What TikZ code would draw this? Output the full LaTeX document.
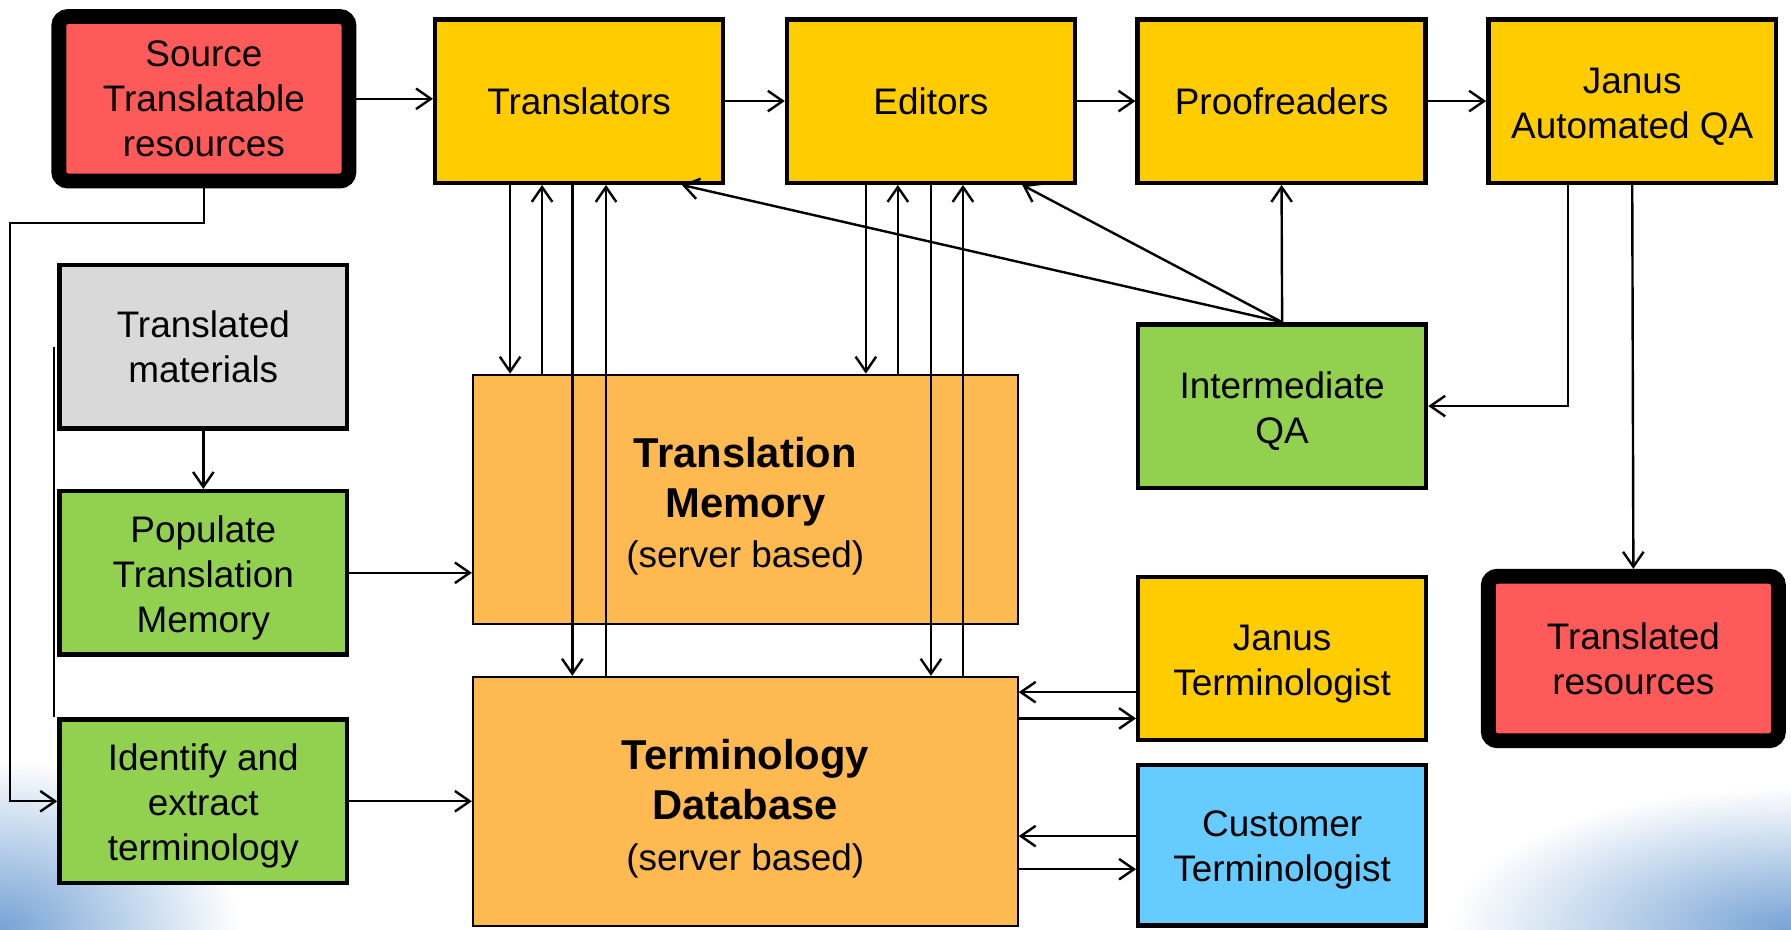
\documentclass[tikz,border=0pt]{standalone}
\usepackage{fontspec}
\setmainfont{Liberation Sans}
\usetikzlibrary{arrows.meta}

\definecolor{resred}{RGB}{255,90,90}
\definecolor{roleyellow}{RGB}{255,204,0}
\definecolor{taskgreen}{RGB}{146,208,80}
\definecolor{matgray}{RGB}{217,217,217}
\definecolor{storeorange}{RGB}{255,185,81}
\definecolor{custblue}{RGB}{102,204,255}
\definecolor{swirl}{RGB}{118,163,213}

% taller first line, pushes a text block down a little
\newcommand{\lowtop}{\rule{0pt}{9pt}}
\newcommand{\lowstore}{\rule{0pt}{11.2pt}}

\tikzset{ box/.style = { rectangle
                       , draw
                       , line width     = 1.1pt
                       , inner sep      = 0pt
                       , align          = center
                       , minimum width  = 25.2mm
                       , minimum height = 14.3mm
                       , font           = \fontsize{9.2}{11.2}\selectfont
                       },
          res/.style = { box
                       , fill           = resred
                       , line width     = 3.7pt
                       , rounded corners = 0.8mm
                       , minimum width  = 25.4mm
                       , minimum height = 14.4mm
                       },
         role/.style = { box
                       , fill = roleyellow
                       },
         task/.style = { box
                       , fill = taskgreen
                       },
        store/.style = { rectangle
                       , draw
                       , fill           = storeorange
                       , line width     = 0.5pt
                       , inner sep      = 0pt
                       , align          = center
                       , minimum width  = 47.7mm
                       , minimum height = 21.8mm
                       , font           = \fontsize{10.4}{12.5}\selectfont
                       },
         link/.style = { draw
                       , line width = 0.6pt
                       },
          arr/.style = { link
                       , -{Straight Barb[length=1.3mm, width=1.8mm]}
                       }
        }

\begin{document}
\begin{tikzpicture}
    [x=0.1mm, y=-0.1mm]
    \useasboundingbox (0,0) rectangle (1568,814);

    % slide background
    \shade[inner color=swirl, outer color=white] (0,814) ellipse [x radius=210, y radius=150];
    \shade[inner color=swirl, outer color=white] (1568,814) ellipse [x radius=300, y radius=125];

    % workflow along the top
    \node[res]  (src) at (178.5,86.5) {Source\\Translatable\\resources};
    \node[role] (tr)  at (507,88.5)   {Translators};
    \node[role] (ed)  at (815,88.5)   {Editors};
    \node[role] (pr)  at (1122,88.5)  {Proofreaders};
    \node[role] (jqa) at (1429,88.5)  {\lowtop Janus\\Automated QA};

    % preparation
    \node[box, fill=matgray] (mat) at (178,303.5) {Translated\\materials};
    \node[task] (pop) at (178,501.5) {\lowtop Populate\\Translation\\Memory};
    \node[task] (idt) at (178,701.5) {\lowtop Identify and\\extract\\terminology};

    % servers
    \node[store] (tmem) at (652.5,437)
        {\lowstore{\bfseries Translation}\\{\bfseries Memory}\\{\fontsize{9.2}{11}\selectfont (server based)}};
    \node[store] (tdb) at (652.5,701.5)
        {\lowstore{\bfseries Terminology}\\{\bfseries Database}\\{\fontsize{9.2}{11}\selectfont (server based)}};

    % right hand side
    \node[task] (iqa) at (1122.5,355.5) {\lowtop Intermediate\\QA};
    \node[role] (jt)  at (1122.5,576.5) {\lowtop Janus\\Terminologist};
    \node[box, fill=custblue, minimum height=14.05mm] (ct) at (1122.5,740) {\lowtop Customer\\Terminologist};
    \node[res]  (tres) at (1430,576.5)  {Translated\\resources};

    \coordinate (lft) at (9,195);

    % main chain
    \draw[arr] (src.east) -- (src.east -| tr.west);
    \draw[arr] (tr.east) -- (ed.west);
    \draw[arr] (ed.east) -- (pr.west);
    \draw[arr] (pr.east) -- (jqa.west);
    \draw[arr] (jqa.south) -- (tres.north);
    \draw[arr] ([xshift=-5.6mm]jqa.south) |- (iqa.east);

    % feedback from intermediate QA
    \draw[arr] (iqa.north) -- (pr.south);
    \draw[arr] (iqa.north) -- ([xshift=-4.8mm]ed.south east);
    \draw[arr] (iqa.north) -- ([xshift=-3.8mm]tr.south east);

    % left column
    \draw[arr] (src.south) |- (lft) |- (idt.west);
    \draw[link] ([xshift=-0.3mm]mat.west) -- ([xshift=-0.3mm]mat.west |- idt.north);
    \draw[arr] (mat.south) -- (pop.north);
    \draw[arr] (pop.east) -- (pop.east -| tmem.west);
    \draw[arr] (idt.east) -- (idt.east -| tdb.west);

    % translators <-> servers
    \draw[arr] ([xshift=6.75mm]tr.south west) -- ([xshift=6.75mm]tr.south west |- tmem.north);
    \draw[arr] ([xshift=9.55mm]tr.south west |- tmem.north) -- ([xshift=9.55mm]tr.south west);
    \draw[arr] ([xshift=12.2mm]tr.south west) -- ([xshift=12.2mm]tr.south west |- tdb.north);
    \draw[arr] ([xshift=15.15mm]tr.south west |- tdb.north) -- ([xshift=15.15mm]tr.south west);

    % editors <-> servers
    \draw[arr] ([xshift=7.1mm]ed.south west) -- ([xshift=7.1mm]ed.south west |- tmem.north);
    \draw[arr] ([xshift=9.9mm]ed.south west |- tmem.north) -- ([xshift=9.9mm]ed.south west);
    \draw[arr] ([xshift=12.8mm]ed.south west) -- ([xshift=12.8mm]ed.south west |- tdb.north);
    \draw[arr] ([xshift=15.6mm]ed.south west |- tdb.north) -- ([xshift=15.6mm]ed.south west);

    % terminologists <-> database
    \draw[arr] ([yshift=-2.95mm]jt.west) -- ([yshift=-2.95mm]jt.west -| tdb.east);
    \draw[arr] ([yshift=-5.25mm]jt.west -| tdb.east) -- ([yshift=-5.25mm]jt.west);
    \draw[arr] ([yshift=0.8mm]ct.west) -- ([yshift=0.8mm]ct.west -| tdb.east);
    \draw[arr] ([yshift=-2.1mm]ct.west -| tdb.east) -- ([yshift=-2.1mm]ct.west);
\end{tikzpicture}
\end{document}
